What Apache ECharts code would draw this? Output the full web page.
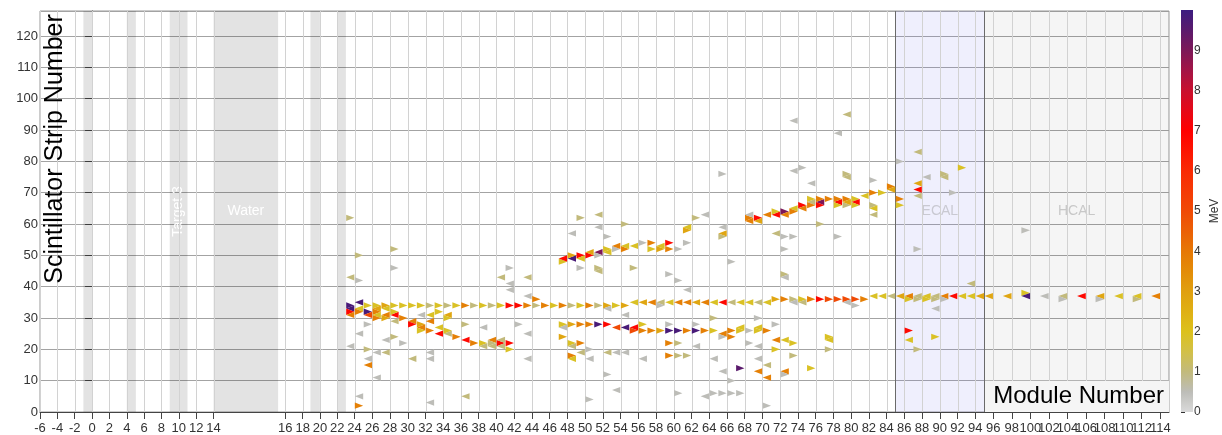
<!DOCTYPE html>
<html><head><meta charset="utf-8">
<script src="https://cdn.jsdelivr.net/npm/echarts@6/dist/echarts.min.js"></script>
<style>html,body{margin:0;padding:0;background:#fff}#c{width:1222px;height:435px}</style>
</head><body><div id="c"></div>
<script>
const FONT = '"Liberation Sans", Arial, Helvetica, sans-serif';

// ---- axis scale: module number -> position along the beam (non-uniform detector pitch)
const MODULE_BREAKS = [-6, 14, 16, 24, 94, 96, 114];
const AXIS_BREAKS   = [-6, 14, 22.27, 30.25, 101.78, 103.85, 123.1];
const X_MAX_MODULE = 114.94;
const STRIP_MAX = 128;

// ---- tick labels
const TICK_MODULES = [-6,-4,-2,0,2,4,6,8,10,12,14,16,18,20,22,24,26,28,30,32,34,36,38,40,42,44,46,48,50,
  52,54,56,58,60,62,64,66,68,70,72,74,76,78,80,82,84,86,88,90,92,94,96,98,100,102,104,106,108,110,112,114];

// ---- passive targets & sub-detectors (module ranges)
const TARGET_BANDS  = [[-1,0],[4,5.05],[8.95,11],[14,15.8],[18.9,20],[22,23]];
const TARGET_LABELS = ['', '', 'Target 3', 'Water', '', ''];
const ECAL_RANGE = [85, 95];
const HCAL_RANGE = [95, 114.94];

// ---- energy colour scale (MeV), 0..10 in 0.5 steps
const MEV_COLORS = ['#dadada','#bdbdb8','#c2ba7c','#d2c048','#dcc11c','#dfb014','#e0a010','#e38c08',
  '#e67805','#eb6005','#f04a05','#f53a05','#f92a04','#fc1502','#ff0000','#e50818','#c8102e','#a31446',
  '#7c1858','#5a1a6c','#3c1c80'];

// ---- hits: [module, strip, MeV]
const vertexHits = [[23,34,9.8],[23,33,9.8],[23,32,6.8],[23,31,3.8],[24,35,9.8],[24,33,1.9],[24,32,3.8],
  [25,34,1.9],[25,32,9.8],[25,31,5],[26,33,2.8],[26,32,3.8],[26,31,1.9],[26,30,3.8],[27,33,1.9],[27,31,3.8],
  [27,30,2.8],[28,32,1.9]];
const muonTrackHits = [[26,34,1.9],[27,34,2.8],[28,34,1.9],[29,34,1.9],[30,34,1.9],[31,34,1.9],[32,34,1.0],
  [33,34,1.9],[34,34,1.0],[35,34,1.9],[36,34,3.8],[37,34,1.0],[38,34,1.9],[39,34,1.0],[40,34,1.9],[41,34,6.8],
  [42,34,6.8],[43,34,3.8],[44,34,1.0],[45,34,3.8],[46,34,1.9],[47,34,3.8],[48,34,1.0],[49,34,1.9],[50,34,3.8],
  [51,34,1.0],[52,34,2.8],[53,34,1.9],[54,34,2.8],[55,35,1.9],[56,35,2.8],[57,35,3.8],[58,35,1.0],[59,35,1.9],
  [60,35,3.8],[61,35,3.8],[62,35,2.8],[63,35,3.8],[64,35,1.9],[65,35,6.8],[66,35,1.0],[67,35,1.9],[68,35,1.9],
  [69,35,1.0],[70,35,1.9],[71,36,2.8],[72,36,3.8],[73,36,1.0],[74,36,1.9],[75,36,3.8],[76,36,6.8],[77,36,5],
  [78,36,5],[79,36,5],[80,36,5],[81,36,3.8],[82,37,1.9],[83,37,1.9],[84,37,1.0],[85,37,2.8],[86,37,3.8],
  [87,37,1.0],[88,37,1.9],[89,37,1.0],[90,37,3.8],[91,37,6.8],[92,37,1.9],[93,37,1.9],[94,37,2.8],
  [58,34,0.5],[73,35,0.5],[74,35,1.0],[79,35,0.5],[80,34,0.5],[86,36,1.9],[87,36,1.0],[88,36,1.9],[89,36,1.0],
  [90,36,0.5],[33,32,1.9],[34,31,2.8],[34,30,1.9],[32,31,1.9],[31,31,0.5],[52,33,0.5]];
const hcalHits = [[95,37,2.8],[97,37,2.8],[99,38,1.9],[99,37,9.8],[101,37,0.5],[103,37,1.0],[103,36,0.5],
  [105,37,6.8],[107,37,2.8],[107,36,0.5],[109,37,1.9],[111,37,1.9],[111,36,1.0],[113,37,3.8]];
const protonTrackHits = [[28,31,6.8],[28,29,1.0],[29,30,3.8],[30,29,3.8],[30,28,6.8],[31,28,2.8],[31,27,3.8],
  [31,26,1.9],[32,29,3.8],[32,26,3.8],[33,25,6.8],[33,27,1.9],[34,25,1.0],[34,26,1.9],[35,24,3.8],[36,23,6.8],
  [37,22,3.8],[38,22,1.9],[39,23,3.8],[39,22,1.0],[40,22,6.8],[40,23,1.0],[41,22,6.8],[38,21,1.0],[39,21,1.0],
  [40,21,1.0]];
const lowerTrackHits = [[47,28,1.9],[48,28,2.8],[49,28,3.8],[50,28,3.8],[51,28,9.8],[52,28,6.8],[53,27,5],
  [54,27,9.8],[55,27,6.8],[55,26,5],[56,28,1.9],[56,26,3.8],[57,26,3.8],[58,26,2.8],[59,26,9.8],[60,26,9.8],
  [61,26,3.8],[62,26,9.8],[63,26,3.8],[64,26,1.9],[65,25,3.8],[66,26,3.8],[67,26,1.9],[68,26,0.5],[69,26,1.9],
  [70,26,3.8],[71,23,3.8],[72,23,1.9],[73,22,1.9],[66,24,3.8],[65,24,0.5],[59,28,0.5],[62,28,0.5],[64,30,1.0],
  [69,30,0.5],[71,28,0.5],[68,22,0.5],[69,21,0.5],[71,20,1.9],[59,22,3.8],[60,22,1.0],[62,21,0.5],[67,27,1.9],
  [69,27,1.9]];
const risingTrackHits = [[47,48,1.9],[47,49,6.8],[48,49,9.8],[48,50,2.8],[49,50,6.8],[49,49,1.9],[50,50,6.8],
  [50,51,2.8],[51,51,9],[51,50,0.5],[52,51,1.9],[52,52,1.9],[53,52,0.5],[53,53,3.8],[54,52,3.8],[54,53,1.9],
  [55,53,1.9],[56,54,0.5],[57,54,3.8],[57,52,1.9],[58,53,1.9],[58,52,2.8],[59,54,6.8],[59,52,3.8],
  [68,62,3.8],[68,61,3.8],[68,63,0.5],[69,62,6.8],[69,61,2.8],[70,63,3.8],[71,63,6.8],[71,64,1.9],[72,64,9],
  [72,63,3.8],[73,65,1.9],[73,64,3.8],[74,66,6.8],[74,65,3.8],[75,67,1.0],[75,68,1.9],[75,66,3.8],[76,67,9],
  [76,66,6.8],[76,68,3.8],[77,68,3.8],[78,67,6.8],[78,68,3.8],[78,66,1.9],[79,68,3.8],[79,66,1.0],[79,67,2.8],
  [80,68,1.9],[80,67,6.8],[80,66,1.9],[81,69,1.9],[82,70,3.8],[83,70,1.9],[84,72,3.8],[84,71,2.8]];
const isolatedHits = [[23,62,1.0],[24,50,1.0],[28,52,1.0],[28,46,0.5],[23,43,1.0],[24,42,0.5],[40,43,1.0],
  [41,46,0.5],[41,41,0.5],[43,43,1.0],[41,39,0.5],[43,37,0.5],[44,36,3.8],[49,62,1.0],[48,57,0.5],[51,63,1.0],
  [51,59,0.5],[52,56,0.5],[54,60,1.0],[49,46,0.5],[51,46,1.0],[51,45,1.0],[55,46,1.0],[59,44,0.5],[60,42,0.5],
  [61,39,0.5],[61,54,0.5],[60,52,0.5],[61,59,1.9],[61,58,2.8],[62,62,1.0],[63,63,0.5],[65,59,0.5],[65,57,2.8],
  [65,56,1.0],[65,76,0.5],[66,48,0.5],[72,52,0.5],[72,44,1.0],[72,43,0.5],[71,57,1.0],[72,56,0.5],[73,56,0.5],
  [73,77,0.5],[74,78,0.5],[73,93,0.5],[79,95,1.0],[78,89,0.5],[79,76,1.0],[79,75,1.0],[76,60,1.0],[75,73,0.5],
  [78,56,0.5],[82,74,0.5],[82,66,1.0],[82,65,1.9],[82,63,1.0],[85,80,0.5],[87,83,1.0],[88,75,0.5],[90,76,1.0],
  [90,75,1.0],[92,78,1.9],[91,70,0.5],[87,73,2.8],[87,71,6.8],[87,69,1.0],[85,68,3.8],[85,66,1.9],[87,52,0.5],
  [99,58,0.5],[93,41,1.0],[89,33,0.5],[86,26,6.8],[86,23,1.9],[89,24,1.9],[87,20,1.0],
  [25,28,0.5],[24,25,0.5],[23,21,0.5],[25,20,1.0],[25,17,0.5],[25,15,3.8],[26,19,0.5],[27,19,1.0],[26,11,0.5],
  [27,23,0.5],[28,24,1.0],[29,22,0.5],[30,17,1.0],[32,19,0.5],[32,17,0.5],[32,3,0.5],[24,5,0.5],[24,2,3.8],
  [36,28,1.0],[36,5,1.0],[38,27,0.5],[42,28,0.5],[43,25,0.5],[43,17,0.5],[47,27,0.5],[47,24,2.8],[48,22,1.9],
  [49,22,3.8],[48,21,1.0],[48,18,3.8],[48,17,1.9],[49,19,1.0],[50,20,0.5],[50,17,0.5],[50,4,0.5],[52,12,0.5],
  [52,19,1.0],[53,19,0.5],[54,19,0.5],[53,7,0.5],[54,31,0.5],[56,17,0.5],[59,18,3.8],[60,18,1.0],[61,18,1.0],
  [64,17,0.5],[69,17,0.5],[70,15,1.0],[73,18,1.0],[65,13,0.5],[67,14,9.5],[69,13,3.8],[70,11,3.8],[72,13,3.8],
  [72,12,0.5],[75,14,1.9],[66,10,0.5],[66,6,0.5],[67,6,0.5],[60,6,0.5],[63,5,0.5],[64,6,0.5],[65,6,0.5],
  [70,2,0.5],[77,24,1.9],[77,23,1.9],[77,20,1.0],[41,20,1.9]];

// ---------------------------------------------------------------------------
function zOf(m) {
  const M = MODULE_BREAKS, Z = AXIS_BREAKS;
  let i = M.length - 2;
  for (let k = 0; k < M.length - 1; k++) { if (m <= M[k + 1]) { i = k; break; } }
  return Z[i] + (m - M[i]) * (Z[i + 1] - Z[i]) / (M[i + 1] - M[i]);
}
const TICK_Z = TICK_MODULES.map(zOf);
const hits = [].concat(isolatedHits, protonTrackHits, lowerTrackHits, risingTrackHits, muonTrackHits, vertexHits, hcalHits);

const chart = echarts.init(document.getElementById('c'), null, { renderer: 'canvas' });

const bandAreas = TARGET_BANDS.map((b, i) => [
  { xAxis: zOf(b[0]), yAxis: 0, itemStyle: { color: 'rgba(0,0,0,0.11)' },
    label: TARGET_LABELS[i] === 'Target 3'
      ? { show: true, position: 'inside', rotate: 90, color: '#fff', fontSize: 14, fontFamily: FONT, formatter: TARGET_LABELS[i] }
      : { show: !!TARGET_LABELS[i], position: 'inside', color: '#fff', fontSize: 14, fontFamily: FONT, formatter: TARGET_LABELS[i] } },
  { xAxis: zOf(b[1]), yAxis: STRIP_MAX }
]);
bandAreas.push([
  { xAxis: zOf(ECAL_RANGE[0]), yAxis: 0, itemStyle: { color: 'rgba(110,110,240,0.11)' },
    label: { show: true, position: 'inside', color: '#c9c9d2', fontSize: 14, fontFamily: FONT, formatter: 'ECAL' } },
  { xAxis: zOf(ECAL_RANGE[1]), yAxis: STRIP_MAX }
]);
bandAreas.push([
  { xAxis: zOf(HCAL_RANGE[0]), yAxis: 0, itemStyle: { color: 'rgba(0,0,0,0.04)' },
    label: { show: true, position: 'inside', color: '#c8c8c8', fontSize: 14, fontFamily: FONT, formatter: 'HCAL' } },
  { xAxis: zOf(HCAL_RANGE[1]), yAxis: STRIP_MAX }
]);

function vLine(color) {
  return function (params, api) {
    const x = zOf(api.value(0));
    const a = api.coord([x, 0]), b = api.coord([x, STRIP_MAX]);
    const px = Math.round(a[0]) + 0.5;
    return { type: 'line', shape: { x1: px, y1: a[1], x2: px, y2: b[1] }, style: { stroke: color, lineWidth: 1 } };
  };
}

function renderTickLabel(params, api) {
  const m = api.value(0);
  const p = api.coord([zOf(m), 0]);
  return { type: 'text', x: p[0], y: p[1] + 10,
    style: { text: String(m), fill: '#333', fontSize: 13, fontFamily: FONT, align: 'center', verticalAlign: 'top' } };
}

function renderHit(params, api) {
  const m = api.value(0), s = api.value(1);
  const xa = zOf(m + 0.03), xb = zOf(m + 0.97);
  const up = s + 1.0, dn = s - 1.0;
  const pts = (s % 2 === 0)
    ? [api.coord([xa, dn]), api.coord([xa, up]), api.coord([xb, s])]
    : [api.coord([xb, dn]), api.coord([xb, up]), api.coord([xa, s])];
  return { type: 'polygon', shape: { points: pts }, style: { fill: api.visual('color') } };
}

function renderColorbar(params, api) {
  const p0 = api.coord([0, 0]), p1 = api.coord([1, 10]);
  const stops = MEV_COLORS.map((c, i) => ({ offset: 1 - i / (MEV_COLORS.length - 1), color: c })).reverse();
  return { type: 'rect', shape: { x: p0[0], y: p1[1], width: p1[0] - p0[0], height: p0[1] - p1[1] },
    style: { fill: new echarts.graphic.LinearGradient(0, 0, 0, 1, stops) } };
}

const option = {
  animation: false,
  backgroundColor: '#fff',
  textStyle: { fontFamily: FONT },
  grid: [
    { left: 40, top: 11, right: 53, bottom: 23, show: true, borderColor: '#999', borderWidth: 1, backgroundColor: '#fff' },
    { left: 1181, top: 10, width: 16, height: 402 }
  ],
  xAxis: [
    { type: 'value', gridIndex: 0, min: -6, max: zOf(X_MAX_MODULE),
      splitLine: { show: false },
      axisLine: { show: true, onZero: false, lineStyle: { color: '#444' } },
      axisTick: { show: true, customValues: TICK_Z, length: 7, lineStyle: { color: '#444' } },
      axisLabel: { show: false } },
    { type: 'value', gridIndex: 1, min: 0, max: 1, show: false }
  ],
  yAxis: [
    { type: 'value', gridIndex: 0, min: 0, max: STRIP_MAX, interval: 10,
      axisLine: { show: true, lineStyle: { color: '#444' } },
      axisTick: { show: true, length: 7, lineStyle: { color: '#444' } },
      axisLabel: { fontSize: 13, color: '#333', margin: 2, showMaxLabel: false, fontFamily: FONT },
      splitLine: { show: true, lineStyle: { color: '#a3a3a3', width: 1 } } },
    { type: 'value', gridIndex: 1, min: 0, max: 10, interval: 1, position: 'right',
      name: 'MeV', nameLocation: 'middle', nameRotate: 90, nameGap: 16,
      nameTextStyle: { fontSize: 12, color: '#333', fontFamily: FONT },
      axisLine: { show: false },
      axisTick: { show: true, length: 4, lineStyle: { color: '#333' } },
      axisLabel: { fontSize: 12, color: '#333', margin: 1, showMaxLabel: false, fontFamily: FONT },
      splitLine: { show: false } }
  ],
  visualMap: { type: 'continuous', show: false, min: 0, max: 10, dimension: 2, seriesIndex: 4,
    inRange: { color: MEV_COLORS } },
  series: [
    { type: 'line', name: 'bands', data: [], silent: true,
      markArea: { silent: true, z: 1, data: bandAreas } },
    { type: 'custom', name: 'grid', z: 2, silent: true, data: TICK_MODULES.map(m => [m]), renderItem: vLine('#d2d2d2') },
    { type: 'line', name: 'box', data: [], silent: true,
      markArea: { silent: true, z: 3, data: [[
        { xAxis: zOf(HCAL_RANGE[0]), yAxis: 0, itemStyle: { color: '#f5f5f5', opacity: 1 },
          label: { show: true, position: 'insideRight', distance: 5, color: '#000', fontSize: 24, fontFamily: FONT, formatter: 'Module Number' } },
        { xAxis: zOf(HCAL_RANGE[1]), yAxis: 10 }]] } },
    { type: 'custom', name: 'boundaries', z: 4, silent: true, data: [[ECAL_RANGE[0]], [ECAL_RANGE[1]]], renderItem: vLine('#6a6a6a') },
    { type: 'custom', name: 'hits', z: 5, data: hits, renderItem: renderHit, encode: { x: 0, y: 1 } },
    { type: 'custom', name: 'colorbar', xAxisIndex: 1, yAxisIndex: 1, silent: true, data: [[0, 10]], renderItem: renderColorbar },
    { type: 'custom', name: 'tickLabels', silent: true, clip: false, z: 6, data: TICK_MODULES.map(m => [m]), renderItem: renderTickLabel }
  ],
  graphic: [
    { type: 'text', x: 55, y: 149, rotation: Math.PI / 2, z: 10,
      style: { text: 'Scintillator Strip Number', fontSize: 25, fontFamily: FONT, fill: '#000', align: 'center', verticalAlign: 'middle' } }
  ]
};
chart.setOption(option);
</script>
</body></html>
